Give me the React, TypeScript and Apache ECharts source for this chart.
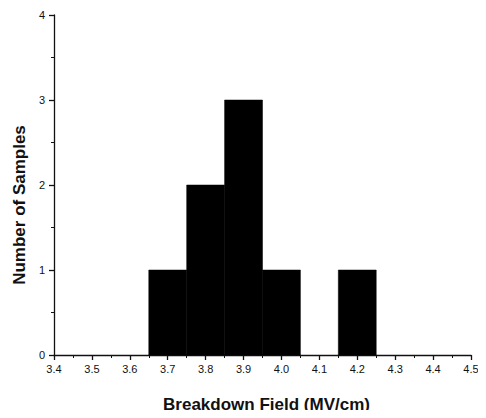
import React, { useEffect, useRef } from "react";
import * as echarts from "echarts";

const binStarts = [3.65, 3.75, 3.85, 3.95, 4.15];
const binEnds = [3.75, 3.85, 3.95, 4.05, 4.25];
const counts = [1, 2, 3, 1, 1];

const xMin = 3.4;
const xMax = 4.5;
const xInterval = 0.1;
const yMin = 0;
const yMax = 4;
const yInterval = 1;

const xTitle = "Breakdown Field (MV/cm)";
const yTitle = "Number of Samples";

export default function App() {
  const ref = useRef<HTMLDivElement>(null);
  useEffect(() => {
    if (!ref.current) return;
    const chart = echarts.init(ref.current, null, { renderer: "svg" });
    const data = binStarts.map((s, i) => [s, binEnds[i], counts[i]]);
    const font = "'Liberation Sans', Arial, sans-serif";
    chart.setOption({
      animation: false,
      backgroundColor: "#ffffff",
      grid: { left: 54, right: 15, top: 15, bottom: 63, containLabel: false },
      xAxis: {
        type: "value",
        min: xMin,
        max: xMax,
        interval: xInterval,
        name: xTitle,
        nameLocation: "middle",
        nameGap: 41,
        nameTextStyle: { fontFamily: font, fontSize: 17, fontWeight: "bold", color: "#111", padding: [0, 0, 0, 8] },
        axisLine: { show: true, lineStyle: { color: "#111", width: 1.3 } },
        axisTick: { show: true, length: 5, lineStyle: { color: "#111", width: 1.3 } },
        minorTick: { show: true, splitNumber: 2, length: 3, lineStyle: { color: "#111", width: 1 } },
        splitLine: { show: false },
        axisLabel: {
          fontFamily: font,
          fontSize: 11,
          color: "#111",
          margin: 8,
          formatter: (v: number) => v.toFixed(1),
        },
      },
      yAxis: {
        type: "value",
        min: yMin,
        max: yMax,
        interval: yInterval,
        name: yTitle,
        nameLocation: "middle",
        nameGap: 24,
        nameTextStyle: { fontFamily: font, fontSize: 17, fontWeight: "bold", color: "#111", padding: [0, 40, 0, 0] },
        axisLine: { show: true, lineStyle: { color: "#111", width: 1.3 } },
        axisTick: { show: true, length: 5, lineStyle: { color: "#111", width: 1.3 } },
        minorTick: { show: true, splitNumber: 2, length: 3, lineStyle: { color: "#111", width: 1 } },
        splitLine: { show: false },
        axisLabel: { fontFamily: font, fontSize: 11, color: "#111", margin: 9 },
      },
      series: [
        {
          type: "custom",
          data,
          encode: { x: [0, 1], y: 2 },
          renderItem: (params: any, api: any) => {
            const p0 = api.coord([api.value(0), api.value(2)]);
            const p1 = api.coord([api.value(1), 0]);
            return {
              type: "rect",
              shape: { x: p0[0], y: p0[1], width: p1[0] - p0[0], height: p1[1] - p0[1] },
              style: { fill: "#000", stroke: "#000", lineWidth: 0.5 },
            };
          },
        },
      ],
    });
    return () => chart.dispose();
  }, []);
  return <div ref={ref} style={{ width: 486, height: 418, margin: -8 }} />;
}
